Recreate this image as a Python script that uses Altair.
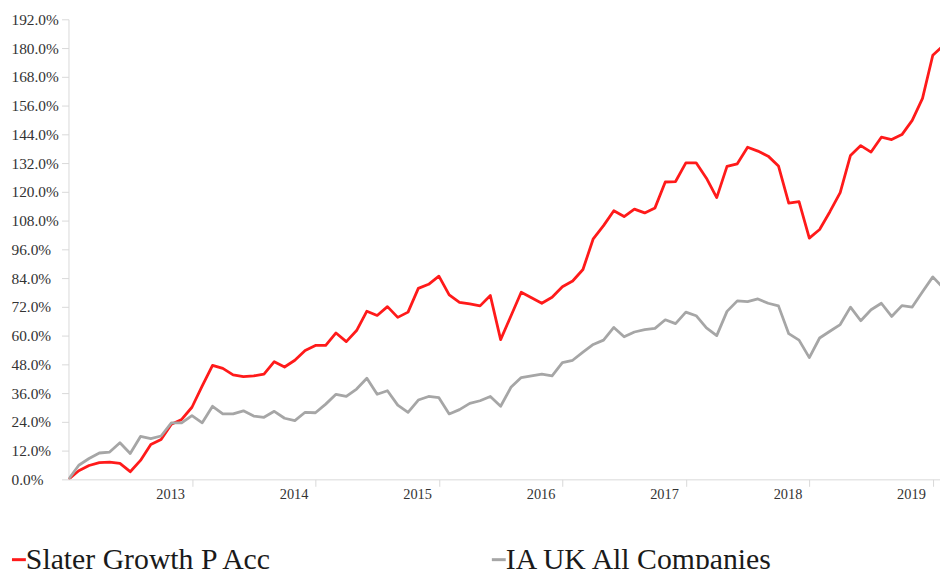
import altair as alt
import pandas as pd

series_names = ["Slater Growth P Acc", "IA UK All Companies"]
series_colors = ["#ff1a1a", "#a6a6a6"]

# monthly cumulative performance (%), month index 0..85
slater = [0, 3.6, 5.8, 7.0, 7.2, 6.7, 3.2, 7.9, 14.5, 16.6,
          23.0, 25.0, 30.1, 39.0, 47.6, 46.3, 43.6, 42.9, 43.2, 43.9,
          49.1, 46.9, 49.7, 53.8, 55.9, 55.9, 61.1, 57.5, 62.1, 70.2,
          68.4, 72.1, 67.6, 69.8, 79.7, 81.4, 84.8, 77.0, 73.9, 73.2,
          72.4, 76.7, 58.3, 68.2, 78.1, 75.8, 73.5, 76.0, 80.4, 82.8,
          87.6, 100.4, 105.9, 112.1, 109.7, 112.8, 111.2, 113.3, 124.1, 124.3,
          132.1, 132.1, 125.7, 117.6, 130.6, 131.7, 138.6, 137.0, 134.9, 130.8,
          115.3, 115.9, 100.7, 104.3, 111.7, 119.7, 135.2, 139.3, 136.6, 142.8,
          141.8, 143.9, 149.8, 159.0, 177.0, 181.0]
ia_uk = [0, 5.9, 8.7, 11.0, 11.4, 15.3, 10.8, 17.9, 17.0, 18.1,
         23.6, 23.6, 26.6, 23.6, 30.5, 27.3, 27.3, 28.6, 26.4, 25.9,
         28.4, 25.5, 24.5, 28.0, 27.8, 31.4, 35.5, 34.6, 37.7, 42.2,
         35.5, 37.0, 31.0, 28.0, 33.1, 34.6, 34.1, 27.3, 29.1, 31.7,
         32.8, 34.6, 30.5, 38.4, 42.5, 43.2, 43.9, 43.2, 48.7, 49.7,
         53.1, 56.3, 58.1, 63.4, 59.5, 61.5, 62.5, 63.0, 66.6, 65.0,
         69.8, 68.3, 63.2, 60.0, 70.1, 74.5, 74.2, 75.3, 73.5, 72.4,
         60.8, 58.1, 50.8, 59.0, 61.8, 64.6, 71.9, 66.2, 70.8, 73.5,
         68.0, 72.5, 71.9, 78.3, 84.5, 80.0]

year_ticks = [12, 24, 36, 48, 60, 72, 84]   # month index of each year start (2013..2019)
y_ticks = list(range(0, 193, 12))

rows = []
for i, v in enumerate(slater):
    rows.append({"m": i, "v": v, "s": series_names[0]})
for i, v in enumerate(ia_uk):
    rows.append({"m": i, "v": v, "s": series_names[1]})
df = pd.DataFrame(rows)

FONT = "Liberation Serif"

chart = alt.Chart(df).mark_line(strokeWidth=2.8, clip=True, strokeJoin="round").encode(
    x=alt.X("m:Q",
            scale=alt.Scale(domain=[0, 84.7], nice=False, zero=False),
            axis=alt.Axis(values=year_ticks, title=None, grid=False,
                          labelExpr="2012 + datum.value / 12",
                          labelFont=FONT, labelFontSize=14.5, labelColor="#333333",
                          labelOffset=-22, labelPadding=1, tickSize=7,
                          tickColor="#d9d9d9", domainColor="#d9d9d9",
                          labelFlush=False, labelOverlap=False)),
    y=alt.Y("v:Q",
            scale=alt.Scale(domain=[0, 192], nice=False),
            axis=alt.Axis(values=y_ticks, title=None, grid=False,
                          labelExpr="format(datum.value, '.1f') + '%'",
                          labelFont=FONT, labelFontSize=15.5, labelColor="#333333",
                          labelAlign="left", labelPadding=51, tickSize=7,
                          tickColor="#d9d9d9", domainColor="#d9d9d9",
                          labelOverlap=False)),
    color=alt.Color("s:N",
                    scale=alt.Scale(domain=series_names, range=series_colors),
                    legend=alt.Legend(title=None, orient="none", direction="horizontal",
                                      legendX=-65, legendY=530,
                                      symbolType="stroke", symbolSize=196,
                                      symbolStrokeWidth=3, labelOffset={"expr": "-8"},
                                      labelFont=FONT, labelFontSize=30,
                                      labelColor="#1a1a1a", labelLimit=400,
                                      columnPadding=212, padding=0)),
    order="m:Q",
).properties(
    width=879,
    height=464,
    autosize=alt.AutoSizeParams(type="none"),
    padding={"left": 61, "top": 9, "right": 0, "bottom": 88},
).configure_view(stroke=None)

chart.save("out.html", embed_options={"renderer": "svg", "actions": False})
